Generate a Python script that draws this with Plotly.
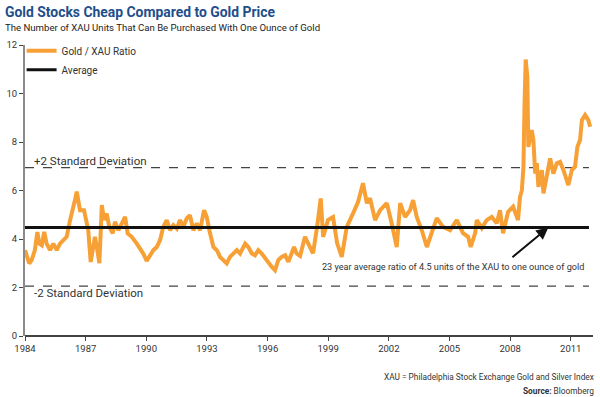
import plotly.graph_objects as go

# Gold / XAU ratio (decimal year, ratio)
years = [1984.00, 1984.08, 1984.21, 1984.33, 1984.49, 1984.61, 1984.71, 1984.83, 1984.95, 1985.07,
         1985.24, 1985.40, 1985.57, 1985.73, 1985.90, 1986.06, 1986.23, 1986.36, 1986.47, 1986.56,
         1986.72, 1986.92, 1987.02, 1987.13, 1987.25, 1987.35, 1987.46, 1987.58, 1987.68, 1987.80,
         1987.91, 1988.04, 1988.17, 1988.34, 1988.45, 1988.62, 1988.78, 1988.95, 1989.08, 1989.28,
         1989.53, 1989.69, 1989.85, 1990.02, 1990.19, 1990.35, 1990.52, 1990.68, 1990.84, 1991.01,
         1991.17, 1991.34, 1991.51, 1991.67, 1991.83, 1992.00, 1992.16, 1992.33, 1992.50, 1992.66,
         1992.86, 1992.99, 1993.12, 1993.32, 1993.49, 1993.65, 1993.81, 1993.98, 1994.14, 1994.31,
         1994.48, 1994.64, 1994.89, 1995.05, 1995.22, 1995.38, 1995.54, 1995.71, 1995.88, 1996.04,
         1996.21, 1996.37, 1996.53, 1996.70, 1996.87, 1997.03, 1997.20, 1997.31, 1997.44, 1997.61,
         1997.85, 1998.25, 1998.45, 1998.63, 1998.75, 1998.99, 1999.24, 1999.44, 1999.67, 1999.92,
         2000.23, 2000.48, 2000.72, 2000.91, 2001.07, 2001.32, 2001.57, 2001.90, 2002.14, 2002.39,
         2002.56, 2002.80, 2003.05, 2003.20, 2003.38, 2003.63, 2003.88, 2004.12, 2004.37, 2004.68,
         2005.03, 2005.36, 2005.67, 2005.92, 2006.05, 2006.27, 2006.35, 2006.60, 2006.84, 2007.09,
         2007.34, 2007.50, 2007.65, 2007.90, 2008.15, 2008.39, 2008.49, 2008.58, 2008.66, 2008.71,
         2008.77, 2008.85, 2008.90, 2009.07, 2009.15, 2009.24, 2009.32, 2009.40, 2009.57, 2009.65,
         2009.81, 2009.98, 2010.14, 2010.31, 2010.47, 2010.64, 2010.88, 2011.05, 2011.21, 2011.33,
         2011.46, 2011.55, 2011.71, 2011.87, 2011.96]
ratio = [3.54, 3.33, 2.99, 3.13, 3.54, 4.29, 3.81, 3.74, 4.29, 3.81,
         3.54, 3.81, 3.54, 3.81, 3.95, 4.09, 4.78, 5.33, 5.60, 5.95,
         5.19, 5.19, 4.78, 4.36, 3.05, 3.67, 4.09, 3.54, 3.00, 5.40,
         4.78, 5.05, 4.50, 4.23, 4.71, 4.36, 4.64, 4.91, 4.23, 4.09,
         3.81, 3.61, 3.40, 3.10, 3.33, 3.54, 3.67, 3.95, 4.50, 4.78,
         4.36, 4.57, 4.43, 4.78, 4.50, 4.85, 4.98, 4.36, 4.64, 4.36,
         5.19, 4.91, 4.36, 3.67, 3.54, 3.26, 3.13, 2.99, 3.26, 3.40,
         3.54, 3.40, 3.81, 3.67, 3.40, 3.33, 3.54, 3.40, 3.20, 3.06,
         2.85, 2.71, 3.13, 3.26, 3.33, 3.06, 3.40, 3.67, 3.40, 3.30,
         4.09, 3.41, 4.50, 5.67, 4.09, 4.78, 4.91, 3.83, 3.26, 4.50,
         5.06, 5.53, 6.30, 5.48, 5.68, 4.78, 5.19, 5.48, 4.65, 3.67,
         5.48, 4.91, 5.19, 5.60, 4.91, 4.36, 3.67, 4.24, 4.86, 4.50,
         4.36, 4.78, 4.24, 4.09, 3.67, 4.24, 4.78, 4.45, 4.78, 4.91,
         4.65, 5.19, 4.24, 5.12, 5.33, 4.78, 5.74, 6.00, 6.98, 9.45,
         11.40, 10.70, 7.80, 8.49, 8.08, 6.70, 7.13, 6.15, 6.84, 5.88,
         6.70, 7.32, 6.70, 7.12, 7.18, 6.84, 6.22, 6.84, 6.98, 7.80,
         8.08, 8.90, 9.11, 8.90, 8.63]

average = 4.47
plus_2sd = 6.94
minus_2sd = 2.06

x_tick_vals = [1984, 1987, 1990, 1993, 1996, 1999, 2002, 2005, 2008, 2011]
x_tick_text = [str(v) for v in x_tick_vals]
y_tick_vals = [0, 2, 4, 6, 8, 10, 12]

FONT = "Roboto, Liberation Sans, Arial, sans-serif"
ORANGE = "#F7A035"
x_start, x_end = 1984.0, 2012.1

fig = go.Figure()

# +2 / -2 standard deviation dashed lines
for val in (plus_2sd, minus_2sd):
    fig.add_trace(go.Scatter(x=[x_start, 2011.9], y=[val, val], mode="lines",
                             line=dict(color="#444444", width=1.3, dash="dash"),
                             showlegend=False, hoverinfo="skip"))

fig.add_trace(go.Scatter(x=years, y=ratio, mode="lines", name="Gold / XAU Ratio",
                         line=dict(color=ORANGE, width=4)))
fig.add_trace(go.Scatter(x=[x_start, 2011.9], y=[average, average], mode="lines",
                         name="Average", line=dict(color="#111111", width=3)))

fig.add_annotation(x=1984.35, y=plus_2sd, text="+2 Standard Deviation", showarrow=False,
                   xanchor="left", yanchor="bottom", yshift=-2,
                   font=dict(family=FONT, size=11.5, color="#333333"))
fig.add_annotation(x=1984.35, y=minus_2sd, text="-2 Standard Deviation", showarrow=False,
                   xanchor="left", yanchor="top", yshift=2,
                   font=dict(family=FONT, size=11.5, color="#333333"))
fig.add_annotation(x=2005.18, y=2.84, text="23 year average ratio of 4.5 units of the XAU to one ounce of gold",
                   showarrow=False, xanchor="center", yanchor="middle",
                   font=dict(family=FONT, size=9.1, color="#333333"))
fig.add_annotation(x=2009.89, y=average, ax=2008.04, ay=3.2, xref="x", yref="y",
                   axref="x", ayref="y", text="", showarrow=True, arrowhead=2,
                   arrowsize=1.2, arrowwidth=2, arrowcolor="#111111")

# titles and footer
fig.add_annotation(x=0, y=1, xref="paper", yref="paper", xanchor="left", yanchor="middle",
                   text="<b>Gold Stocks Cheap Compared to Gold Price</b>", showarrow=False,
                   xshift=-22, yshift=33, font=dict(family=FONT, size=13.9, color="#1F4E8A"))
fig.add_annotation(x=0, y=1, xref="paper", yref="paper", xanchor="left", yanchor="middle",
                   text="The Number of XAU Units That Can Be Purchased With One Ounce of Gold",
                   showarrow=False, xshift=-22, yshift=18,
                   font=dict(family=FONT, size=9.6, color="#222222"))
fig.add_annotation(x=1, y=0, xref="paper", yref="paper", xanchor="right", yanchor="middle",
                   text="XAU = Philadelphia Stock Exchange Gold and Silver Index",
                   showarrow=False, xshift=3, yshift=-41,
                   font=dict(family=FONT, size=8.3, color="#333333"))
fig.add_annotation(x=1, y=0, xref="paper", yref="paper", xanchor="right", yanchor="middle",
                   text="<b>Source:</b> Bloomberg", showarrow=False, xshift=3, yshift=-55,
                   font=dict(family=FONT, size=8.3, color="#333333"))

fig.update_layout(
    width=600, height=397,
    margin=dict(l=25, r=7, t=45, b=61),
    paper_bgcolor="white", plot_bgcolor="white",
    font=dict(family=FONT, size=10, color="#333333"),
    showlegend=True,
    legend=dict(x=-0.006, y=1.03, xanchor="left", yanchor="top", bgcolor="rgba(0,0,0,0)",
                font=dict(family=FONT, size=10, color="#333333"), tracegroupgap=0,
                traceorder="normal"),
)
fig.update_xaxes(range=[x_start, x_end], tickvals=x_tick_vals, ticktext=x_tick_text,
                 showgrid=False, zeroline=False, showline=False,
                 ticks="outside", ticklen=4, tickcolor="#444444",
                 tickfont=dict(family=FONT, size=9.5, color="#333333"))
fig.update_yaxes(range=[0, 12], tickvals=y_tick_vals, showgrid=False, zeroline=True,
                 zerolinecolor="#444444", zerolinewidth=1.5,
                 showline=True, linecolor="#8a8a8a", linewidth=2,
                 ticks="outside", ticklen=4, tickcolor="#444444",
                 tickfont=dict(family=FONT, size=9.5, color="#333333"))

fig.write_html("out.html", config={"displayModeBar": False},
               post_script="document.body.style.margin='0';document.body.style.overflow='hidden';")
